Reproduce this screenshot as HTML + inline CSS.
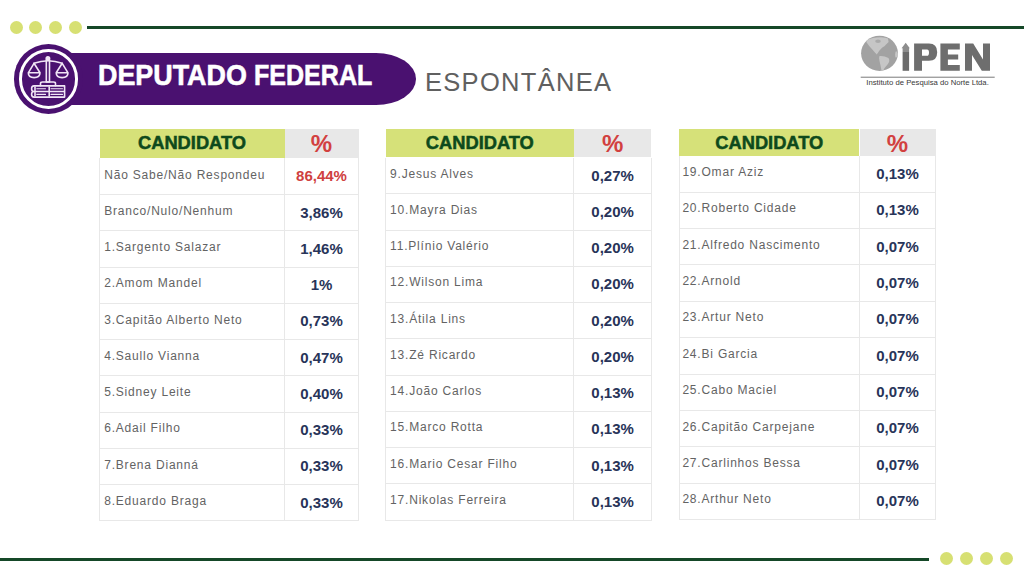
<!DOCTYPE html>
<html><head><meta charset="utf-8">
<style>
*{margin:0;padding:0;box-sizing:border-box}
html,body{width:1024px;height:576px;overflow:hidden;background:#fff}
body{position:relative;font-family:"Liberation Sans",sans-serif}
.a{position:absolute}
.dot{position:absolute;width:13px;height:13px;border-radius:50%;background:#d7e073}
.gl{position:absolute;height:3px;background:#154828}
/*TC*/
.hc{position:absolute;height:0;line-height:0;color:#0e4a1c;font-weight:bold;font-size:18.3px;text-align:center;white-space:nowrap;-webkit-text-stroke:0.5px #0e4a1c}
.hp{position:absolute;height:0;line-height:0;color:#d2403f;font-weight:bold;font-size:24px;text-align:center}
.nm{position:absolute;height:0;line-height:0;color:#636363;font-size:12px;letter-spacing:0.8px;white-space:nowrap}
.pc{position:absolute;height:0;line-height:0;color:#283459;font-weight:bold;font-size:15px;text-align:center;white-space:nowrap}
.vl{position:absolute;width:1px;background:#e8e8e8}
.hl{position:absolute;height:1px;background:#e8e8e8}
/*/TC*/
</style></head><body>
<!-- top dots and line -->
<div class="dot" style="left:10px;top:21px"></div>
<div class="dot" style="left:29px;top:21px"></div>
<div class="dot" style="left:49px;top:21px"></div>
<div class="dot" style="left:69px;top:21px"></div>
<div class="gl" style="left:87px;right:0;top:26px"></div>
<!-- bottom line and dots -->
<div class="gl" style="left:0;width:929px;top:558px"></div>
<div class="dot" style="left:940px;top:552px"></div>
<div class="dot" style="left:960px;top:552px"></div>
<div class="dot" style="left:980px;top:552px"></div>
<div class="dot" style="left:1000px;top:552px"></div>

<!-- title bar -->
<div class="a" style="left:46px;top:53px;width:370px;height:52px;background:#4a1170;border-radius:0 40px 40px 0/0 26px 26px 0"></div>
<div class="a" style="left:13.9px;top:44.2px;width:69.4px;height:69.4px;border-radius:50%;background:#4a1170"></div>
<div class="a" style="left:18.7px;top:49px;width:59.8px;height:59.8px;border-radius:50%;border:3px solid #fff"></div>
<svg class="a" style="left:14px;top:45px" width="69" height="69" viewBox="0 0 69 69">
 <g fill="none" stroke="#f1e6f6" stroke-width="1.6" stroke-linejoin="round" stroke-linecap="round">
  <circle cx="33.9" cy="13.5" r="1.7" fill="#f1e6f6"/>
  <rect x="32.3" y="15" width="3.2" height="22"/>
  <path d="M20 18.3 Q34 13.2 48.2 18.3"/>
  <path d="M20 18.3 L14.3 27.8 M20 18.3 L26 27.8 M14.3 27.8 H26 Q26 32.6 20.1 32.6 Q14.3 32.6 14.3 27.8Z"/>
  <path d="M48.2 18.3 L42.2 27.8 M48.2 18.3 L54 27.8 M42.2 27.8 H54 Q54 32.6 48.1 32.6 Q42.2 32.6 42.2 27.8Z"/>
  <path d="M26.5 40.6 V38.5 Q26.5 37 28.5 37 H39.5 Q41.5 37 41.5 38.5 V40.6"/>
  <path d="M50.6 40.9 H20 Q17.6 40.9 17.6 43.7 Q17.6 46.5 20 46.5 H50.6 Z M50.6 46.5 H20 Q17.6 46.5 17.6 49.3 Q17.6 52.1 20 52.1 H50.6 Z"/>
  <path d="M21 42 V45.4 M21 47.6 V51 M35.2 42 V45.4 M35.2 47.6 V51"/>
  <path d="M22.8 43.8 H31.5 M37 43.8 H48.5 M22.8 49.4 H31.5 M37 49.4 H48.5" stroke-width="1.1"/>
 </g>
</svg>
<div class="a" style="left:97.7px;top:57.9px;color:#fff;font-weight:bold;font-size:30px;white-space:nowrap;-webkit-text-stroke:0.6px #fff;transform:scaleX(0.896);transform-origin:0 0">DEPUTADO</div>
<div class="a" style="left:253.5px;top:57.9px;color:#fff;font-weight:bold;font-size:30px;white-space:nowrap;-webkit-text-stroke:0.6px #fff;transform:scaleX(0.835);transform-origin:0 0">FEDERAL</div>
<div class="a" style="left:425px;top:67.5px;color:#606060;font-size:25.5px;letter-spacing:1.3px;white-space:nowrap">ESPONTÂNEA</div>

<!-- logo -->
<svg class="a" style="left:855px;top:33px" width="145" height="60" viewBox="855 33 145 60">
 <defs><clipPath id="gc"><ellipse cx="879.5" cy="53.3" rx="18.4" ry="17.6"/></clipPath></defs>
 <ellipse cx="879.5" cy="53.3" rx="18.4" ry="17.6" fill="#a2a2a2"/>
 <g clip-path="url(#gc)" fill="#c6c6c6">
  <path d="M866.3 42 Q866.5 40 867.5 39.5 Q872 37.5 881 37.2 Q886 37.5 888 38.6 L888.6 42 Q886.5 44 884.4 46.2 Q882 47.5 880.9 49 Q879 51 878.1 52.4 L876.75 54.5 Q874 51.5 871.9 49 Q868.5 45.5 866.3 42Z"/>
  <ellipse cx="878" cy="41.3" rx="2.8" ry="1.8" fill="#aaaaaa"/>
  <path d="M879.5 56 Q884 55.5 888.5 58 Q890.5 61 887.5 64.5 Q884.5 67.5 883 71 L881.5 70.5 Q880.5 65 879.5 61 Q878.5 58 879.5 56Z"/>
  <path d="M896 51 Q899 53 898 57 L895.5 57.5 Q894.5 54 896 51Z"/>
 </g>
 <g fill="#8d8d8d"><path d="M901.6 48.3 L905.7 42.7 L909.8 48.3 H909.1 V52 H902.6 V48.3Z"/></g>
 <rect x="902.6" y="52" width="6.5" height="18.8" fill="#6b6b6b"/>
 <g fill="#6e6e6e" fill-rule="evenodd">
  <path d="M914.1 43.6 H929 Q937.2 43.6 937.2 52.2 Q937.2 60.8 929 60.8 H922 V70.8 H914.1 Z M922 49.6 H927 Q929 49.6 929 52.7 Q929 55.8 927 55.8 H922 Z"/>
  <path d="M940.4 43.6 H959.8 V49.6 H947.9 V54.6 H958.2 V59.6 H947.9 V64.9 H959.8 V70.8 H940.4 Z"/>
  <path d="M965 43.6 H973.2 L983 59.5 V43.6 H990 V70.8 H981.8 L972 55 V70.8 H965 Z"/>
 </g>
 <rect x="860.7" y="76.7" width="134" height="1" fill="#7a7a7a"/>
 <text x="866.3" y="85.4" font-family="Liberation Sans" font-size="7.3" fill="#383838" textLength="122.5" lengthAdjust="spacingAndGlyphs">Instituto de Pesquisa do Norte Ltda.</text>
</svg>

<!--T-->
<div class="a" style="left:99.5px;top:128.6px;width:185.0px;height:29.7px;background:#d6e179"></div>
<div class="a" style="left:284.5px;top:128.6px;width:74.0px;height:29.7px;background:#e8e8e8"></div>
<div class="hc" style="left:99.5px;top:143.06px;width:185.0px">CANDIDATO</div>
<div class="hp" style="left:284.5px;top:144.28px;width:74.0px">%</div>
<div class="vl" style="left:99.0px;top:158.3px;height:363.0px"></div>
<div class="vl" style="left:284.0px;top:158.3px;height:363.0px"></div>
<div class="vl" style="left:358.0px;top:158.3px;height:363.0px"></div>
<div class="hl" style="left:99.0px;width:260.0px;top:194.1px"></div>
<div class="nm" style="left:104.2px;top:174.54px">Não Sabe/Não Respondeu</div>
<div class="pc" style="left:284.5px;width:74.0px;top:176.30px;color:#cf4040">86,44%</div>
<div class="hl" style="left:99.0px;width:260.0px;top:230.3px"></div>
<div class="nm" style="left:104.2px;top:210.79px">Branco/Nulo/Nenhum</div>
<div class="pc" style="left:284.5px;width:74.0px;top:212.55px">3,86%</div>
<div class="hl" style="left:99.0px;width:260.0px;top:266.6px"></div>
<div class="nm" style="left:104.2px;top:247.04px">1.Sargento Salazar</div>
<div class="pc" style="left:284.5px;width:74.0px;top:248.80px">1,46%</div>
<div class="hl" style="left:99.0px;width:260.0px;top:302.8px"></div>
<div class="nm" style="left:104.2px;top:283.29px">2.Amom Mandel</div>
<div class="pc" style="left:284.5px;width:74.0px;top:285.05px">1%</div>
<div class="hl" style="left:99.0px;width:260.0px;top:339.0px"></div>
<div class="nm" style="left:104.2px;top:319.54px">3.Capitão Alberto Neto</div>
<div class="pc" style="left:284.5px;width:74.0px;top:321.30px">0,73%</div>
<div class="hl" style="left:99.0px;width:260.0px;top:375.3px"></div>
<div class="nm" style="left:104.2px;top:355.79px">4.Saullo Vianna</div>
<div class="pc" style="left:284.5px;width:74.0px;top:357.55px">0,47%</div>
<div class="hl" style="left:99.0px;width:260.0px;top:411.5px"></div>
<div class="nm" style="left:104.2px;top:392.04px">5.Sidney Leite</div>
<div class="pc" style="left:284.5px;width:74.0px;top:393.80px">0,40%</div>
<div class="hl" style="left:99.0px;width:260.0px;top:447.8px"></div>
<div class="nm" style="left:104.2px;top:428.29px">6.Adail Filho</div>
<div class="pc" style="left:284.5px;width:74.0px;top:430.05px">0,33%</div>
<div class="hl" style="left:99.0px;width:260.0px;top:484.0px"></div>
<div class="nm" style="left:104.2px;top:464.54px">7.Brena Dianná</div>
<div class="pc" style="left:284.5px;width:74.0px;top:466.30px">0,33%</div>
<div class="hl" style="left:99.0px;width:260.0px;top:520.3px"></div>
<div class="nm" style="left:104.2px;top:500.79px">8.Eduardo Braga</div>
<div class="pc" style="left:284.5px;width:74.0px;top:502.55px">0,33%</div>
<div class="a" style="left:385.8px;top:128.6px;width:188.1px;height:28.9px;background:#d6e179"></div>
<div class="a" style="left:573.9px;top:128.6px;width:77.5px;height:28.9px;background:#e8e8e8"></div>
<div class="hc" style="left:385.8px;top:143.06px;width:188.1px">CANDIDATO</div>
<div class="hp" style="left:573.9px;top:144.28px;width:77.5px">%</div>
<div class="vl" style="left:385.3px;top:157.5px;height:363.0px"></div>
<div class="vl" style="left:573.4px;top:157.5px;height:363.0px"></div>
<div class="vl" style="left:650.9px;top:157.5px;height:363.0px"></div>
<div class="hl" style="left:385.3px;width:266.6px;top:193.2px"></div>
<div class="nm" style="left:390.1px;top:173.74px">9.Jesus Alves</div>
<div class="pc" style="left:573.9px;width:77.5px;top:175.50px">0,27%</div>
<div class="hl" style="left:385.3px;width:266.6px;top:229.5px"></div>
<div class="nm" style="left:390.1px;top:209.99px">10.Mayra Dias</div>
<div class="pc" style="left:573.9px;width:77.5px;top:211.75px">0,20%</div>
<div class="hl" style="left:385.3px;width:266.6px;top:265.8px"></div>
<div class="nm" style="left:390.1px;top:246.24px">11.Plínio Valério</div>
<div class="pc" style="left:573.9px;width:77.5px;top:248.00px">0,20%</div>
<div class="hl" style="left:385.3px;width:266.6px;top:302.0px"></div>
<div class="nm" style="left:390.1px;top:282.49px">12.Wilson Lima</div>
<div class="pc" style="left:573.9px;width:77.5px;top:284.25px">0,20%</div>
<div class="hl" style="left:385.3px;width:266.6px;top:338.2px"></div>
<div class="nm" style="left:390.1px;top:318.74px">13.Átila Lins</div>
<div class="pc" style="left:573.9px;width:77.5px;top:320.50px">0,20%</div>
<div class="hl" style="left:385.3px;width:266.6px;top:374.5px"></div>
<div class="nm" style="left:390.1px;top:354.99px">13.Zé Ricardo</div>
<div class="pc" style="left:573.9px;width:77.5px;top:356.75px">0,20%</div>
<div class="hl" style="left:385.3px;width:266.6px;top:410.8px"></div>
<div class="nm" style="left:390.1px;top:391.24px">14.João Carlos</div>
<div class="pc" style="left:573.9px;width:77.5px;top:393.00px">0,13%</div>
<div class="hl" style="left:385.3px;width:266.6px;top:447.0px"></div>
<div class="nm" style="left:390.1px;top:427.49px">15.Marco Rotta</div>
<div class="pc" style="left:573.9px;width:77.5px;top:429.25px">0,13%</div>
<div class="hl" style="left:385.3px;width:266.6px;top:483.2px"></div>
<div class="nm" style="left:390.1px;top:463.74px">16.Mario Cesar Filho</div>
<div class="pc" style="left:573.9px;width:77.5px;top:465.50px">0,13%</div>
<div class="hl" style="left:385.3px;width:266.6px;top:519.5px"></div>
<div class="nm" style="left:390.1px;top:499.99px">17.Nikolas Ferreira</div>
<div class="pc" style="left:573.9px;width:77.5px;top:501.75px">0,13%</div>
<div class="a" style="left:679.1px;top:128.6px;width:180.4px;height:27.2px;background:#d6e179"></div>
<div class="a" style="left:859.5px;top:128.6px;width:76.0px;height:27.2px;background:#e8e8e8"></div>
<div class="hc" style="left:679.1px;top:143.06px;width:180.4px">CANDIDATO</div>
<div class="hp" style="left:859.5px;top:144.28px;width:76.0px">%</div>
<div class="vl" style="left:678.6px;top:155.8px;height:364.1px"></div>
<div class="vl" style="left:859.0px;top:155.8px;height:364.1px"></div>
<div class="vl" style="left:935.0px;top:155.8px;height:364.1px"></div>
<div class="hl" style="left:678.6px;width:257.4px;top:191.7px"></div>
<div class="nm" style="left:682.4px;top:172.04px">19.Omar Aziz</div>
<div class="pc" style="left:859.5px;width:76.0px;top:173.80px">0,13%</div>
<div class="hl" style="left:678.6px;width:257.4px;top:228.0px"></div>
<div class="nm" style="left:682.4px;top:208.40px">20.Roberto Cidade</div>
<div class="pc" style="left:859.5px;width:76.0px;top:210.16px">0,13%</div>
<div class="hl" style="left:678.6px;width:257.4px;top:264.4px"></div>
<div class="nm" style="left:682.4px;top:244.76px">21.Alfredo Nascimento</div>
<div class="pc" style="left:859.5px;width:76.0px;top:246.52px">0,07%</div>
<div class="hl" style="left:678.6px;width:257.4px;top:300.7px"></div>
<div class="nm" style="left:682.4px;top:281.12px">22.Arnold</div>
<div class="pc" style="left:859.5px;width:76.0px;top:282.88px">0,07%</div>
<div class="hl" style="left:678.6px;width:257.4px;top:337.1px"></div>
<div class="nm" style="left:682.4px;top:317.48px">23.Artur Neto</div>
<div class="pc" style="left:859.5px;width:76.0px;top:319.24px">0,07%</div>
<div class="hl" style="left:678.6px;width:257.4px;top:373.5px"></div>
<div class="nm" style="left:682.4px;top:353.84px">24.Bi Garcia</div>
<div class="pc" style="left:859.5px;width:76.0px;top:355.60px">0,07%</div>
<div class="hl" style="left:678.6px;width:257.4px;top:409.8px"></div>
<div class="nm" style="left:682.4px;top:390.20px">25.Cabo Maciel</div>
<div class="pc" style="left:859.5px;width:76.0px;top:391.96px">0,07%</div>
<div class="hl" style="left:678.6px;width:257.4px;top:446.2px"></div>
<div class="nm" style="left:682.4px;top:426.56px">26.Capitão Carpejane</div>
<div class="pc" style="left:859.5px;width:76.0px;top:428.32px">0,07%</div>
<div class="hl" style="left:678.6px;width:257.4px;top:482.5px"></div>
<div class="nm" style="left:682.4px;top:462.92px">27.Carlinhos Bessa</div>
<div class="pc" style="left:859.5px;width:76.0px;top:464.68px">0,07%</div>
<div class="hl" style="left:678.6px;width:257.4px;top:518.9px"></div>
<div class="nm" style="left:682.4px;top:499.28px">28.Arthur Neto</div>
<div class="pc" style="left:859.5px;width:76.0px;top:501.04px">0,07%</div>
<!--/T-->
</body></html>
